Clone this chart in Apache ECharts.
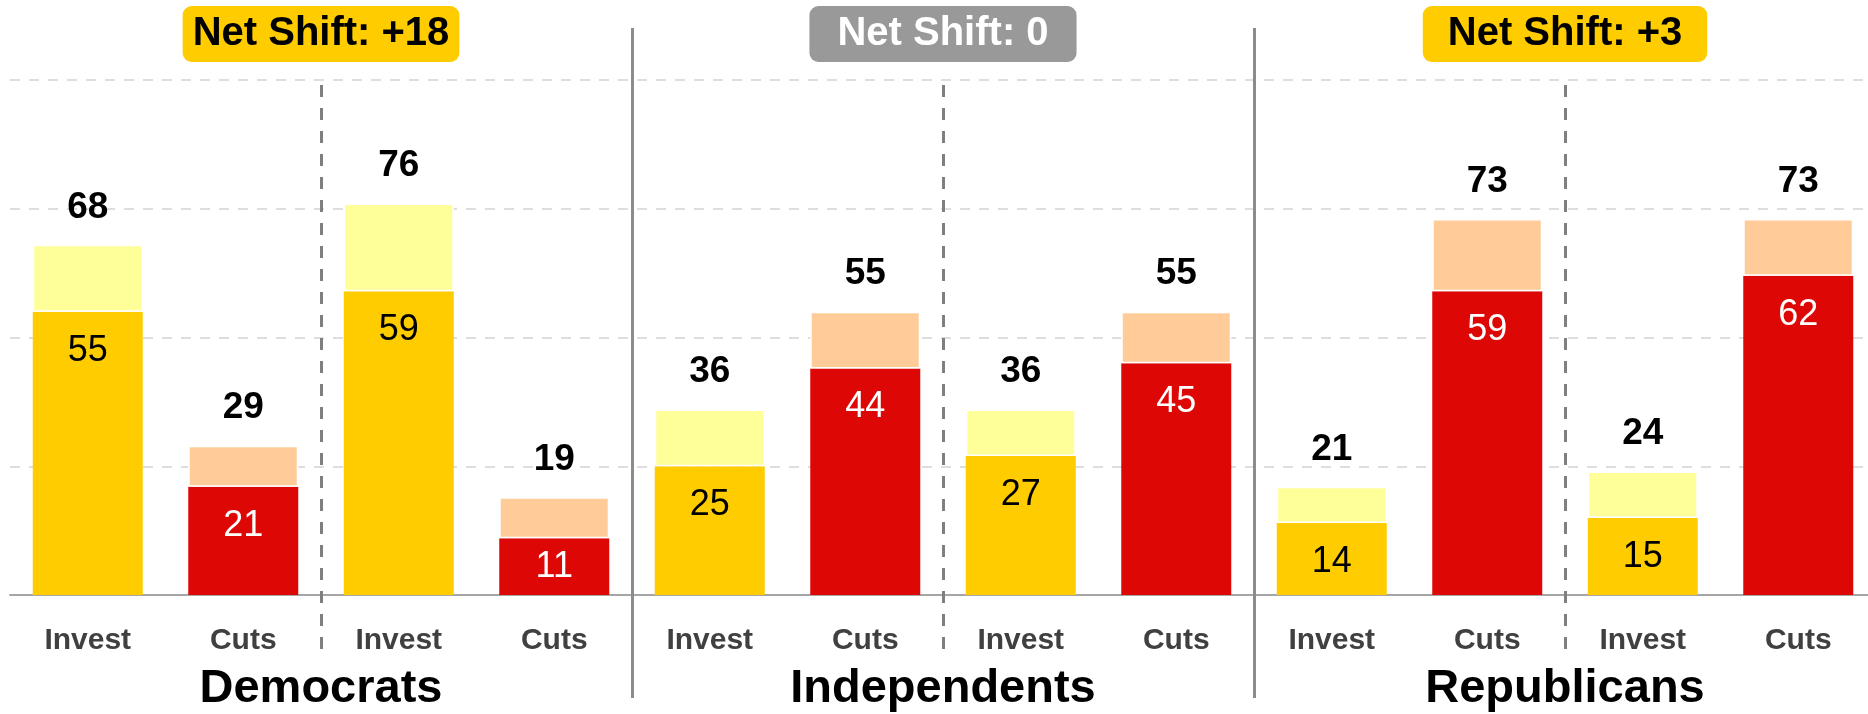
<!DOCTYPE html>
<html>
<head>
<meta charset="utf-8">
<title>Net Shift</title>
<script src="https://cdn.jsdelivr.net/npm/echarts@6.0.0/dist/echarts.min.js"></script>
<style>
html, body { margin: 0; padding: 0; background: #fff; }
#chart_shift { width: 1868px; height: 714px; }
</style>
</head>
<body>
<div id="chart_shift"></div>
<script>
var categories = ['Invest', 'Cuts', 'Invest', 'Cuts', 'Invest', 'Cuts', 'Invest', 'Cuts', 'Invest', 'Cuts', 'Invest', 'Cuts'];
var groups = ['Democrats', 'Independents', 'Republicans'];
var netShifts = ['Net Shift: +18', 'Net Shift: 0', 'Net Shift: +3'];
var baseValues = [55, 21, 59, 11, 25, 44, 27, 45, 14, 59, 15, 62];
var totalValues = [68, 29, 76, 19, 36, 55, 36, 55, 21, 73, 24, 73];
var yTicks = [0, 25, 50, 75, 100];

var FONT = '"Liberation Sans", Arial, sans-serif';

function fun_Chart_Shift() {
    var myChart = echarts.init(document.getElementById('chart_shift'));
    var isInvest = function (i) { return categories[i] === 'Invest'; };

    var baseData = baseValues.map(function (v, i) {
        return {
            value: v,
            itemStyle: { color: isInvest(i) ? '#FFCC00' : '#DD0806' },
            label: {
                color: isInvest(i) ? '#000' : '#fff',
                position: v < 12 ? 'inside' : 'insideTop'  // short bar: centre it
            }
        };
    });
    var topData = totalValues.map(function (v, i) {
        return {
            value: v - baseValues[i],
            itemStyle: { color: isInvest(i) ? '#FFFF99' : '#FFCC99' }
        };
    });

    var option = {
        animation: false,
        textStyle: { fontFamily: FONT },
        grid: {
            left: 10,
            top: 80,
            width: 1866,   // the last bar runs a little past the right edge
            height: 515,
            containLabel: false,
            outerBoundsMode: 'none'
        },
        xAxis: [{
            type: 'category',
            data: categories,
            position: 'bottom',
            axisLine: { lineStyle: { color: '#A6A6A6', width: 2 } },
            axisTick: { length: 10, lineStyle: { color: '#A6A6A6', width: 2 } },
            axisLabel: {
                interval: 0,
                margin: 31,
                fontSize: 30,
                fontWeight: 'bold',
                color: '#404040',
                fontFamily: FONT
            },
            splitLine: { show: false }
        }, {
            // party names under the Invest / Cuts labels
            type: 'category',
            data: groups,
            position: 'bottom',
            axisLine: { show: false },
            axisTick: { show: false },
            splitLine: { show: false },
            axisLabel: {
                interval: 0,
                margin: 71,
                fontSize: 47,
                fontWeight: 'bold',
                color: '#000',
                fontFamily: FONT
            }
        }, {
            // net shift badges on top
            type: 'category',
            data: netShifts,
            position: 'top',
            axisLine: { show: false },
            axisTick: { show: false },
            splitLine: { show: false },
            axisLabel: {
                interval: 0,
                margin: 18,
                formatter: function (value, index) {
                    return '{s' + index + '|' + value + '}';
                },
                rich: {
                    s0: { backgroundColor: '#FFCC00', color: '#000', fontSize: 40, fontWeight: 'bold', fontFamily: FONT, padding: [8, 10, 8, 10], borderRadius: 9 },
                    s1: { backgroundColor: '#999999', color: '#fff', fontSize: 40, fontWeight: 'bold', fontFamily: FONT, padding: [8, 28, 8, 28], borderRadius: 9 },
                    s2: { backgroundColor: '#FFCC00', color: '#000', fontSize: 40, fontWeight: 'bold', fontFamily: FONT, padding: [8, 25, 8, 25], borderRadius: 9 }
                }
            }
        }],
        yAxis: {
            type: 'value',
            min: yTicks[0],
            max: yTicks[yTicks.length - 1],
            interval: yTicks[1] - yTicks[0],
            axisLine: { show: false },
            axisTick: { show: false },
            axisLabel: { show: false },
            splitLine: {
                lineStyle: { color: '#D3D3D3', width: 1.5, type: [10, 9] }
            }
        },
        series: [{
            name: 'base',
            type: 'bar',
            stack: 'total',
            barWidth: 110,
            data: baseData,
            label: {
                show: true,
                distance: 21,
                fontSize: 36,
                fontFamily: FONT
            }
        }, {
            name: 'top',
            type: 'bar',
            stack: 'total',
            barWidth: 110,
            data: topData,
            itemStyle: { borderColor: '#fff', borderWidth: 1.5 },
            label: {
                show: true,
                position: 'top',
                distance: 19,
                fontSize: 37,
                fontWeight: 'bold',
                color: '#000',
                fontFamily: FONT,
                formatter: function (p) { return totalValues[p.dataIndex]; }
            }
        }]
    };
    myChart.setOption(option);

    // separators between the Invest/Cuts pairs and between parties
    var per = categories.length / groups.length;
    var boundaryX = function (k) {
        var a = myChart.convertToPixel({ xAxisIndex: 0 }, k - 1);
        var b = myChart.convertToPixel({ xAxisIndex: 0 }, k);
        return (a + b) / 2;
    };
    var yTop = myChart.convertToPixel({ yAxisIndex: 0 }, yTicks[yTicks.length - 1]);
    var yBottom = myChart.convertToPixel({ yAxisIndex: 0 }, yTicks[0]);
    var lines = [];
    for (var g = 0; g < groups.length; g++) {
        var xd = Math.round(boundaryX(g * per + per / 2)) + 0.5;
        lines.push({
            type: 'line', z: 5,
            shape: { x1: xd, y1: yTop + 5, x2: xd, y2: yBottom + 63 },
            style: { stroke: '#7F7F7F', lineWidth: 3, lineDash: [12, 11] }
        });
        if (g > 0) {
            var xs = Math.round(boundaryX(g * per)) + 0.5;
            lines.push({
                type: 'line', z: 5,
                shape: { x1: xs, y1: yTop - 52, x2: xs, y2: yBottom + 103 },
                style: { stroke: '#8C8C8C', lineWidth: 3 }
            });
        }
    }
    myChart.setOption({ graphic: lines });
}

fun_Chart_Shift();
</script>
</body>
</html>
